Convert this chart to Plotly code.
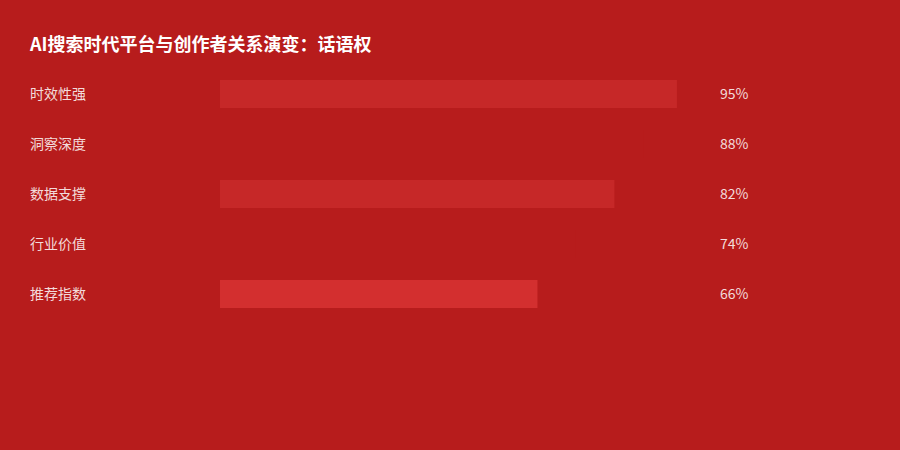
import plotly.graph_objects as go

categories = ["时效性强", "洞察深度", "数据支撑", "行业价值", "推荐指数"]
values = [95, 88, 82, 74, 66]
bar_colors = ["#C62828", "#B71C1C", "#C62828", "#B71C1C", "#D32F2F"]
title_text = "AI搜索时代平台与创作者关系演变：话语权"

BG = "#B71C1C"
FONT = "Noto Sans CJK SC, Microsoft YaHei, sans-serif"

fig = go.Figure()
fig.add_trace(go.Bar(
    x=values, y=categories, orientation="h",
    marker=dict(color=bar_colors, line=dict(width=0)),
    hoverinfo="skip", showlegend=False,
))

annotations = []
for c, v in zip(categories, values):
    annotations.append(dict(
        x=(28 - 220) / 481, xref="paper", y=c, yref="y", text=c, showarrow=False,
        xanchor="left", yanchor="middle", yshift=1,
        font=dict(family=FONT, size=14, color="rgba(255,255,255,0.85)"),
    ))
    annotations.append(dict(
        x=(718 - 220) / 481, xref="paper", y=c, yref="y", text=f"{v}%", showarrow=False,
        xanchor="left", yanchor="middle", yshift=1,
        font=dict(family=FONT, size=14, color="rgba(255,255,255,0.85)"),
    ))

fig.update_layout(
    width=900, height=450,
    paper_bgcolor=BG, plot_bgcolor=BG,
    margin=dict(l=220, r=199, t=69, b=131),
    bargap=0.44,
    title=dict(text=f"<b>{title_text}</b>", x=30/900, xanchor="left",
               y=1 - 45/450, yanchor="middle",
               font=dict(family=FONT, size=18, color="#FFFFFF")),
    xaxis=dict(range=[0, 100], visible=False, fixedrange=True),
    yaxis=dict(categoryorder="array", categoryarray=categories,
               autorange="reversed", visible=False, fixedrange=True),
    annotations=annotations,
)

fig.write_html(
    "out.html",
    config={"displayModeBar": False},
    post_script="document.body.style.margin='0';document.body.style.background='#B71C1C';",
)
